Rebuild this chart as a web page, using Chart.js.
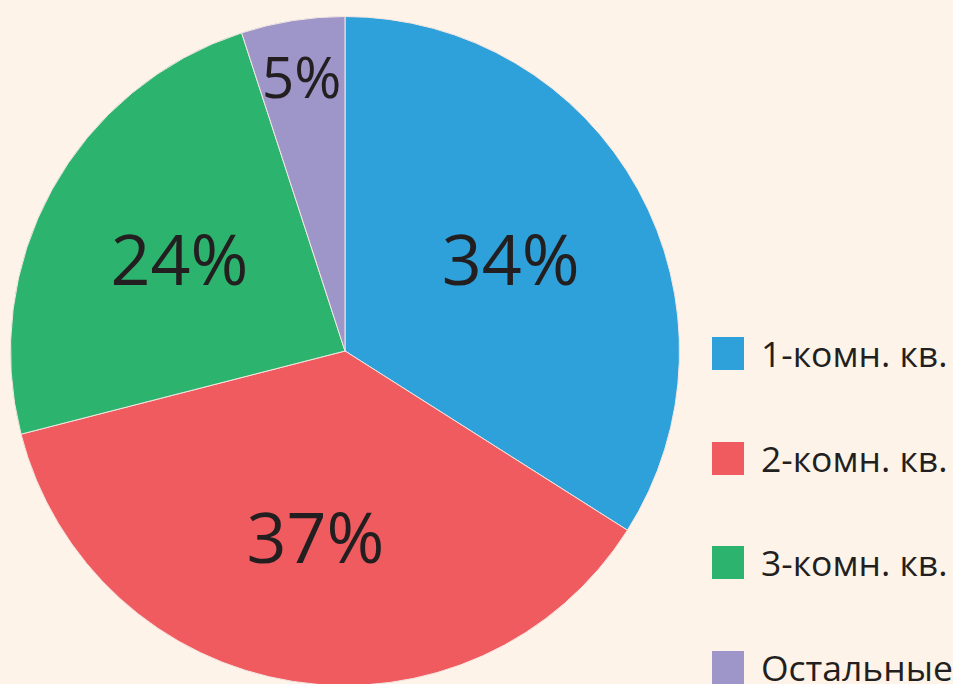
<!DOCTYPE html>
<html>
<head>
<meta charset="utf-8">
<script src="https://cdn.jsdelivr.net/npm/chart.js@4/dist/chart.umd.min.js"></script>
<style>
  html, body { margin: 0; padding: 0; background: #FDF3E8; overflow: hidden; }
  body { width: 953px; height: 684px; position: relative; font-family: "Open Sans", sans-serif; }
  #pie-wrap { position: absolute; left: 10px; top: 16px; width: 670px; height: 670px; }
  #legend { position: absolute; left: 712px; top: 337px; }
  .item { position: absolute; left: 0; height: 33px; white-space: nowrap; }
  .item .box { position: absolute; left: 0; top: 0; width: 32px; height: 33px; }
  .item .txt { position: absolute; left: 49px; top: -7px; font-size: 35.5px; line-height: 46px; color: #231F20; }
</style>
</head>
<body>
<div id="pie-wrap"><canvas id="pie"></canvas></div>
<div id="legend"></div>
<script>
const categories = ['1-комн. кв.', '2-комн. кв.', '3-комн. кв.', 'Остальные'];
const shares = [34, 37, 24, 5];
const colors = ['#2EA1DA', '#F05B5F', '#2CB46F', '#9E95C9'];

// percent labels drawn on the slices
const sliceLabels = {
  id: 'sliceLabels',
  afterDatasetsDraw(chart) {
    const ctx = chart.ctx;
    const meta = chart.getDatasetMeta(0);
    ctx.save();
    ctx.fillStyle = '#231F20';
    ctx.textAlign = 'center';
    ctx.textBaseline = 'middle';
    meta.data.forEach((arc, i) => {
      const p = arc.getProps(['x', 'y', 'startAngle', 'endAngle', 'outerRadius'], true);
      const small = shares[i] < 10;
      ctx.font = (small ? 57 : 70) + 'px "Open Sans"';
      const mid = (p.startAngle + p.endAngle) / 2;
      const r = p.outerRadius * (small ? 0.83 : 0.565);
      ctx.fillText(shares[i] + '%', p.x + Math.cos(mid) * r, p.y + Math.sin(mid) * r + 5);
    });
    ctx.restore();
  }
};

new Chart(document.getElementById('pie'), {
  type: 'pie',
  data: {
    labels: categories,
    datasets: [{
      data: shares,
      backgroundColor: colors,
      borderColor: '#F3E6E2',
      borderWidth: 1
    }]
  },
  options: {
    responsive: true,
    maintainAspectRatio: false,
    animation: false,
    layout: { padding: 0 },
    plugins: {
      legend: { display: false },
      tooltip: { enabled: false }
    }
  },
  plugins: [sliceLabels]
});

// legend
const legend = document.getElementById('legend');
categories.forEach((name, i) => {
  const item = document.createElement('div');
  item.className = 'item';
  item.style.top = (i * 104.7) + 'px';
  item.innerHTML = `<div class="box" style="background:${colors[i]}"></div><div class="txt">${name}</div>`;
  legend.appendChild(item);
});
</script>
</body>
</html>
